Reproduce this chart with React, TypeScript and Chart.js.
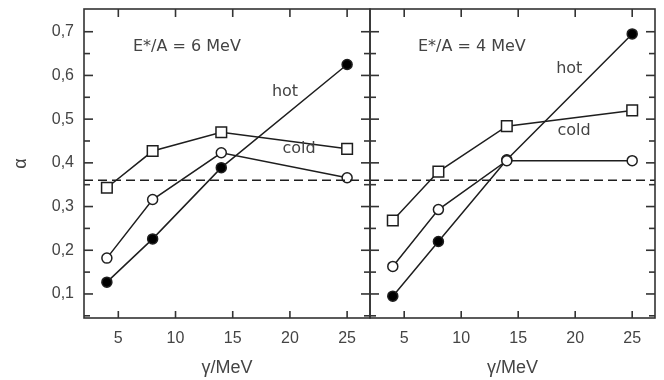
import React, { useEffect, useRef } from "react";
import { Chart, registerables } from "chart.js";

Chart.register(...registerables);

// ---- data ----
const gammaValues = [4, 8, 14, 25];
const xTicks = [5, 10, 15, 20, 25];
const yTicks = [0.1, 0.2, 0.3, 0.4, 0.5, 0.6, 0.7];
const yMinorTicks = [0.05, 0.15, 0.25, 0.35, 0.45, 0.55, 0.65];
const threshold = 0.36;

// E*/A = 6 MeV panel
const left6Square = [0.343, 0.427, 0.47, 0.432];
const left6Open = [0.182, 0.316, 0.423, 0.366];
const left6Hot = [0.127, 0.226, 0.389, 0.625];

// E*/A = 4 MeV panel
const right4Square = [0.268, 0.38, 0.484, 0.52];
const right4Open = [0.163, 0.293, 0.405, 0.405];
const right4Hot = [0.095, 0.22, 0.407, 0.695];

const panelTitles = ["E*/A = 6 MeV", "E*/A = 4 MeV"];
const xTitle = "γ/MeV";
const yTitle = "α";

// ---- styles ----
const INK = "#1e1e1e";
const TEXT = "#444";
const FONT = "Liberation Sans";
const NOTE_FONT = "DejaVu Sans";

const framePlugin = {
  id: "frame",
  afterDraw(chart: any) {
    const { ctx, chartArea: a, scales } = chart;
    const xs = scales.x;
    const ys = scales.y;
    ctx.save();
    ctx.strokeStyle = "#333";
    ctx.lineWidth = 1.6;
    ctx.strokeRect(a.left, a.top, a.right - a.left, a.bottom - a.top);
    const seg = (x1: number, y1: number, x2: number, y2: number) => {
      ctx.beginPath();
      ctx.moveTo(x1, y1);
      ctx.lineTo(x2, y2);
      ctx.stroke();
    };
    for (const v of yTicks) {
      const p = ys.getPixelForValue(v);
      seg(a.left, p, a.left + 9, p);
      seg(a.right, p, a.right - 9, p);
    }
    for (const v of yMinorTicks) {
      const p = ys.getPixelForValue(v);
      seg(a.left, p, a.left + 6, p);
      seg(a.right, p, a.right - 6, p);
    }
    for (const v of xTicks) {
      const p = xs.getPixelForValue(v);
      seg(p, a.top, p, a.top + 8);
      seg(p, a.bottom, p, a.bottom - 7);
    }
    ctx.restore();
  },
};

const notesPlugin = {
  id: "notes",
  afterDraw(chart: any, _args: any, opts: any) {
    const { ctx, scales } = chart;
    ctx.save();
    ctx.fillStyle = TEXT;
    ctx.font = `16px "${NOTE_FONT}"`;
    ctx.textBaseline = "middle";
    for (const n of opts.labels || []) {
      ctx.textAlign = n.align || "center";
      ctx.fillText(n.text, scales.x.getPixelForValue(n.x), scales.y.getPixelForValue(n.y));
    }
    ctx.restore();
  },
};

function series(vals: number[], style: "rect" | "open" | "filled") {
  const isRect = style === "rect";
  return {
    data: gammaValues.map((g, i) => ({ x: g, y: vals[i] })),
    borderColor: INK,
    borderWidth: 1.5,
    pointStyle: isRect ? "rect" : "circle",
    pointRadius: isRect ? 7.5 : 5,
    pointBorderWidth: 1.5,
    pointBorderColor: INK,
    pointBackgroundColor: style === "filled" ? "#000" : "#fff",
    showLine: true,
    tension: 0,
  };
}

function dashed() {
  return {
    data: [
      { x: 2, y: threshold },
      { x: 27, y: threshold },
    ],
    borderColor: INK,
    borderWidth: 1.5,
    borderDash: [9, 5],
    pointRadius: 0,
    showLine: true,
  };
}

function makeConfig(side: "left" | "right") {
  const isLeft = side === "left";
  const sq = isLeft ? left6Square : right4Square;
  const op = isLeft ? left6Open : right4Open;
  const hot = isLeft ? left6Hot : right4Hot;
  const labels = isLeft
    ? [
        { text: panelTitles[0], x: 6.28, y: 0.665, align: "left" },
        { text: "hot", x: 19.57, y: 0.563 },
        { text: "cold", x: 20.8, y: 0.431 },
      ]
    : [
        { text: panelTitles[1], x: 6.2, y: 0.665, align: "left" },
        { text: "hot", x: 19.48, y: 0.614 },
        { text: "cold", x: 19.9, y: 0.473 },
      ];
  const tickFont = { family: FONT, size: 16 };
  return {
    type: "scatter",
    data: {
      datasets: [dashed(), series(sq, "rect"), series(op, "open"), series(hot, "filled")],
    },
    plugins: [framePlugin, notesPlugin],
    options: {
      responsive: false,
      animation: false,
      layout: { padding: { left: 0, top: 5, right: isLeft ? 294 : 8, bottom: 0 } },
      plugins: {
        legend: { display: false },
        tooltip: { enabled: false },
        notes: { labels },
      },
      scales: {
        x: {
          type: "linear",
          min: 2,
          max: 27,
          afterBuildTicks: (s: any) => {
            s.ticks = xTicks.map((v) => ({ value: v }));
          },
          afterFit: (s: any) => {
            s.height = 62;
            s.paddingLeft = 0;
            s.paddingRight = 0;
          },
          grid: { display: false, drawTicks: false },
          border: { display: false },
          ticks: { padding: 11, font: tickFont, color: TEXT, callback: (v: any) => String(v) },
          title: {
            display: true,
            text: xTitle,
            font: { family: FONT, size: 18 },
            color: TEXT,
            padding: { top: 0, bottom: 1 },
          },
        },
        y: {
          type: "linear",
          min: 0.045,
          max: 0.752,
          afterBuildTicks: (s: any) => {
            s.ticks = yTicks.map((v) => ({ value: v }));
          },
          afterFit: (s: any) => {
            s.width = isLeft ? 84 : 370;
            s.paddingTop = 0;
            s.paddingBottom = 0;
          },
          grid: { display: false, drawTicks: false },
          border: { display: false },
          ticks: {
            display: isLeft,
            padding: 10,
            font: tickFont,
            color: TEXT,
            callback: (v: any) => Number(v).toFixed(1).replace(".", ","),
          },
          title: {
            display: isLeft,
            text: yTitle,
            font: { family: FONT, size: 18 },
            color: TEXT,
            padding: { top: 10, bottom: 0 },
          },
        },
      },
    },
  };
}

export default function App() {
  const leftRef = useRef<HTMLCanvasElement>(null);
  const rightRef = useRef<HTMLCanvasElement>(null);

  useEffect(() => {
    const c1 = new Chart(leftRef.current as HTMLCanvasElement, makeConfig("left") as any);
    const c2 = new Chart(rightRef.current as HTMLCanvasElement, makeConfig("right") as any);
    return () => {
      c1.destroy();
      c2.destroy();
    };
  }, []);

  const canvasStyle: React.CSSProperties = { position: "absolute", left: 0, top: 0 };
  return (
    <div style={{ position: "absolute", left: 0, top: 0, width: 664, height: 380, background: "#fff" }}>
      <canvas ref={leftRef} width={664} height={380} style={canvasStyle} />
      <canvas ref={rightRef} width={664} height={380} style={canvasStyle} />
    </div>
  );
}
